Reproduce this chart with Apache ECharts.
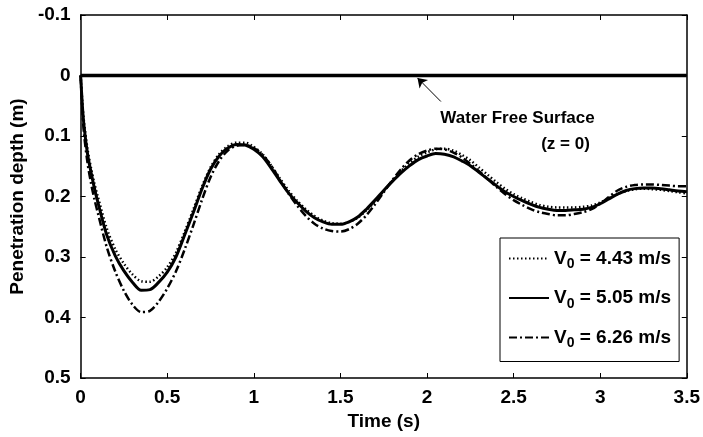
<!DOCTYPE html>
<html>
<head>
<meta charset="utf-8">
<script src="https://cdn.jsdelivr.net/npm/echarts@6/dist/echarts.min.js"></script>
<style>
html,body{margin:0;padding:0;background:#fff;}
#main{width:703px;height:437px;}
</style>
</head>
<body>
<div id="main"></div>
<script>
// ---- data ----
var time = [0, 0.01, 0.02, 0.04, 0.06, 0.08, 0.1, 0.15, 0.2, 0.25, 0.3, 0.35, 0.4, 0.45, 0.5, 0.55, 0.6, 0.65, 0.7, 0.75, 0.8, 0.85, 0.9, 0.95, 1.0, 1.05, 1.1, 1.15, 1.2, 1.25, 1.3, 1.35, 1.4, 1.45, 1.5, 1.55, 1.6, 1.65, 1.7, 1.75, 1.8, 1.85, 1.9, 1.95, 2.0, 2.05, 2.1, 2.15, 2.2, 2.25, 2.3, 2.35, 2.4, 2.45, 2.5, 2.55, 2.6, 2.65, 2.7, 2.75, 2.8, 2.85, 2.9, 2.95, 3.0, 3.05, 3.1, 3.15, 3.2, 3.25, 3.3, 3.35, 3.4, 3.45, 3.5];

var v443 = [0, 0.045, 0.078, 0.122, 0.153, 0.179, 0.201, 0.252, 0.287, 0.311, 0.329, 0.340, 0.341, 0.332, 0.317, 0.293, 0.259, 0.222, 0.184, 0.152, 0.130, 0.117, 0.111, 0.111, 0.118, 0.130, 0.149, 0.170, 0.190, 0.207, 0.221, 0.232, 0.240, 0.244, 0.245, 0.242, 0.235, 0.223, 0.208, 0.191, 0.174, 0.158, 0.145, 0.134, 0.127, 0.122, 0.121, 0.124, 0.131, 0.140, 0.152, 0.164, 0.176, 0.187, 0.196, 0.203, 0.209, 0.214, 0.217, 0.218, 0.218, 0.218, 0.217, 0.215, 0.210, 0.203, 0.196, 0.191, 0.188, 0.187, 0.188, 0.189, 0.191, 0.193, 0.195];

var v505 = [0, 0.050, 0.085, 0.130, 0.160, 0.187, 0.210, 0.263, 0.298, 0.323, 0.342, 0.355, 0.354, 0.342, 0.325, 0.300, 0.264, 0.227, 0.188, 0.155, 0.133, 0.120, 0.114, 0.115, 0.122, 0.134, 0.153, 0.174, 0.194, 0.210, 0.224, 0.235, 0.242, 0.246, 0.246, 0.242, 0.234, 0.221, 0.206, 0.190, 0.175, 0.161, 0.149, 0.139, 0.133, 0.129, 0.130, 0.134, 0.141, 0.149, 0.160, 0.171, 0.182, 0.192, 0.200, 0.207, 0.213, 0.218, 0.221, 0.223, 0.223, 0.222, 0.221, 0.218, 0.212, 0.204, 0.196, 0.190, 0.187, 0.186, 0.186, 0.187, 0.189, 0.191, 0.192];

var v626 = [0, 0.060, 0.098, 0.145, 0.178, 0.205, 0.228, 0.283, 0.324, 0.356, 0.379, 0.391, 0.389, 0.374, 0.352, 0.324, 0.288, 0.248, 0.206, 0.168, 0.141, 0.124, 0.116, 0.115, 0.120, 0.131, 0.149, 0.172, 0.195, 0.215, 0.232, 0.245, 0.253, 0.257, 0.258, 0.254, 0.245, 0.231, 0.213, 0.193, 0.173, 0.155, 0.140, 0.130, 0.124, 0.121, 0.122, 0.127, 0.135, 0.146, 0.158, 0.171, 0.184, 0.196, 0.206, 0.214, 0.221, 0.226, 0.229, 0.231, 0.231, 0.229, 0.226, 0.221, 0.212, 0.201, 0.190, 0.184, 0.181, 0.180, 0.180, 0.181, 0.182, 0.183, 0.183];

var surfaceT = [0, 3.5];
var surfaceZ = [0, 0];

var seriesNames = ['V0 = 4.43 m/s', 'V0 = 5.05 m/s', 'V0 = 6.26 m/s'];
var legendVelocity = ['4.43', '5.05', '6.26'];

var xTicks = [0, 0.5, 1, 1.5, 2, 2.5, 3, 3.5];
var yTicks = [-0.1, 0, 0.1, 0.2, 0.3, 0.4, 0.5];

var xTitle = 'Time (s)';
var yTitle = 'Penetration depth (m)';
var annotationText1 = 'Water Free Surface';
var annotationText2 = '(z = 0)';
var arrowFrom = [2.08, 0.043];
var arrowTo = [1.945, 0.004];
var label1At = [2.077, 0.07];
var label2At = [2.94, 0.113];

// ---- chart ----
function pairs(xs, ys) { return xs.map(function (x, i) { return [x, ys[i]]; }); }

var FONT = '"Liberation Sans", Arial, sans-serif';
var chart = echarts.init(document.getElementById('main'), null, { renderer: 'canvas' });

var axisFmt = function (v) { return String(Math.round(v * 10) / 10); };

var baseX = {
  type: 'value', min: xTicks[0], max: xTicks[xTicks.length - 1], interval: 0.5,
  axisLine: { show: true, onZero: false, lineStyle: { color: '#000', width: 1.5 } },
  axisTick: { show: true, inside: true, length: 5, lineStyle: { color: '#000', width: 1 } },
  splitLine: { show: false }
};
var baseY = {
  type: 'value', inverse: true, min: yTicks[0], max: yTicks[yTicks.length - 1], interval: 0.1,
  axisLine: { show: true, onZero: false, lineStyle: { color: '#000', width: 1.5 } },
  axisTick: { show: true, inside: true, length: 5, lineStyle: { color: '#000', width: 1 } },
  splitLine: { show: false }
};

var richLegend = {
  a: { fontFamily: FONT, fontWeight: 'bold', fontSize: 19, color: '#000' },
  b: { fontFamily: FONT, fontWeight: 'bold', fontSize: 14, color: '#000', padding: [12, 0, 0, 0] }
};

var option = {
  animation: false,
  backgroundColor: '#fff',
  grid: { left: 80, right: 16, top: 15, bottom: 59, containLabel: false },
  xAxis: [
    Object.assign({}, baseX, {
      position: 'bottom',
      axisLabel: { show: true, color: '#000', fontFamily: FONT, fontWeight: 'bold', fontSize: 19, margin: 10, formatter: axisFmt },
      name: xTitle, nameLocation: 'middle', nameGap: 34,
      nameTextStyle: { color: '#000', fontFamily: FONT, fontWeight: 'bold', fontSize: 19 }
    }),
    Object.assign({}, baseX, { position: 'top', axisLabel: { show: false } })
  ],
  yAxis: [
    Object.assign({}, baseY, {
      position: 'left',
      axisLabel: { show: true, color: '#000', fontFamily: FONT, fontWeight: 'bold', fontSize: 19, margin: 10, formatter: axisFmt },
      name: yTitle, nameLocation: 'middle', nameGap: 48, nameRotate: 90,
      nameTextStyle: { color: '#000', fontFamily: FONT, fontWeight: 'bold', fontSize: 19 }
    }),
    Object.assign({}, baseY, { position: 'right', axisLabel: { show: false } })
  ],
  legend: {
    orient: 'vertical',
    left: 500, top: 238,
    width: 178,
    padding: [11, 8, 11, 8],
    itemGap: 17,
    itemWidth: 40, itemHeight: 14,
    backgroundColor: '#fff',
    borderColor: '#000', borderWidth: 1,
    itemStyle: { opacity: 0 },
    data: seriesNames,
    formatter: function (name) {
      var i = seriesNames.indexOf(name);
      return '{a|V}{b|0}{a| = ' + legendVelocity[i] + ' m/s}';
    },
    textStyle: { color: '#000', fontFamily: FONT, fontWeight: 'bold', fontSize: 19, rich: richLegend }
  },
  series: [
    {
      name: 'surface', type: 'line', data: pairs(surfaceT, surfaceZ), symbol: 'none', silent: true,
      lineStyle: { color: '#000', width: 3.5 }, z: 3,
      markLine: {
        silent: true, symbol: ['none', 'arrow'], symbolSize: 9,
        lineStyle: { color: '#000', width: 1, type: 'solid' },
        label: { show: false },
        data: [[{ coord: arrowFrom }, { coord: arrowTo }]]
      },
      markPoint: {
        silent: true, symbol: 'circle', symbolSize: 0,
        data: [
          { coord: label1At, label: { show: true, position: 'right', distance: 0, formatter: annotationText1, color: '#000', fontFamily: FONT, fontWeight: 'bold', fontSize: 17 } },
          { coord: label2At, label: { show: true, position: 'left', distance: 0, formatter: annotationText2, color: '#000', fontFamily: FONT, fontWeight: 'bold', fontSize: 17 } }
        ]
      }
    },
    {
      name: seriesNames[0], type: 'line', data: pairs(time, v443), symbol: 'none', smooth: 0.3,
      lineStyle: { color: '#000', width: 2.5, type: [1.5, 2.5] }, itemStyle: { color: '#000' }
    },
    {
      name: seriesNames[1], type: 'line', data: pairs(time, v505), symbol: 'none', smooth: 0.3,
      lineStyle: { color: '#000', width: 3, type: 'solid' }, itemStyle: { color: '#000' }
    },
    {
      name: seriesNames[2], type: 'line', data: pairs(time, v626), symbol: 'none', smooth: 0.3,
      lineStyle: { color: '#000', width: 2.5, type: [8, 3, 2, 3] }, itemStyle: { color: '#000' }
    }
  ]
};
chart.setOption(option);
</script>
</body>
</html>
